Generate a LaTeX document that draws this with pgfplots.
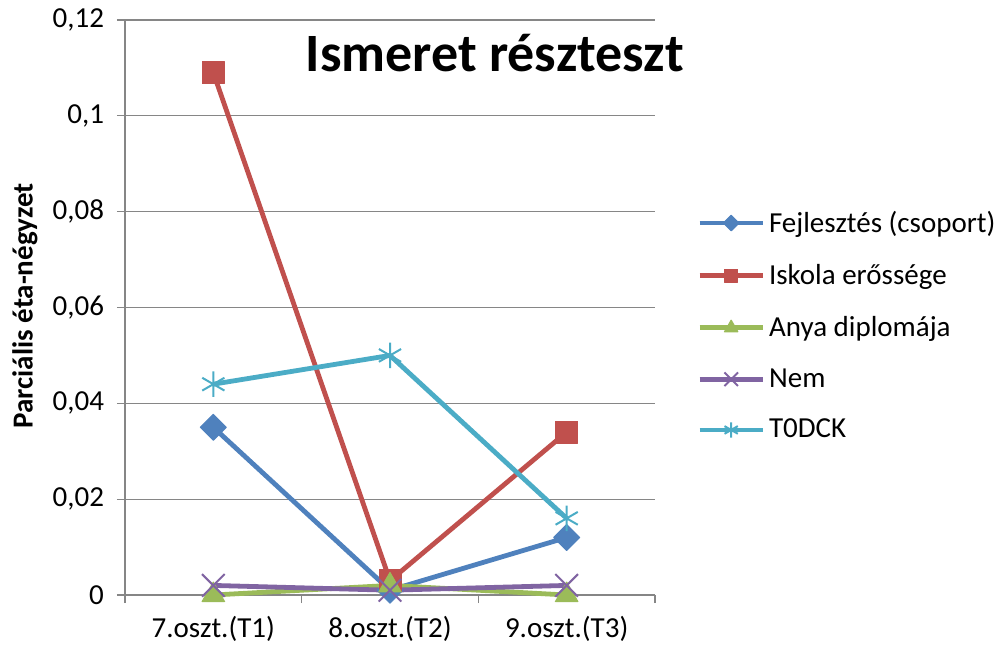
\documentclass[border=0pt]{standalone}
\usepackage{pgfplots}
\pgfplotsset{compat=1.18}
\usepackage{fontspec}
\setmainfont{Carlito}
\usetikzlibrary{plotmarks}

\definecolor{cBlue}{HTML}{4F81BD}
\definecolor{cRed}{HTML}{C0504D}
\definecolor{cGreen}{HTML}{9BBB59}
\definecolor{cPurple}{HTML}{8064A2}
\definecolor{cAqua}{HTML}{4BACC6}
\definecolor{gridgray}{HTML}{868686}

\begin{document}
\begin{tikzpicture}
\begin{axis}[
  scale only axis,
  width=265pt, height=287.5pt,
  xmin=-0.5, xmax=2.5,
  ymin=0, ymax=0.12,
  axis x line*=bottom, axis y line*=left,
  axis line style={draw=gridgray, line width=0.6pt},
  tick align=outside,
  tick style={draw=gridgray, line width=0.6pt},
  major tick length=4pt,
  xtick={-0.5,0.5,1.5,2.5},
  xticklabels={},
  extra x ticks={0,1,2},
  extra x tick labels={7.oszt.(T1),8.oszt.(T2),9.oszt.(T3)},
  extra x tick style={major tick length=0pt, grid=none,
    xticklabel style={yshift=-7pt}},
  ytick={0,0.02,0.04,0.06,0.08,0.1,0.12},
  yticklabels={0,{0,02},{0,04},{0,06},{0,08},{0,1},{0,12}},
  yticklabel style={xshift=-3pt},
  ymajorgrids=true,
  grid style={draw=gridgray, line width=0.6pt},
  tick label style={font=\fontsize{14.5}{17}\selectfont, text=black},
  ylabel={Parciális éta-négyzet},
  ylabel style={font=\bfseries\fontsize{14.5}{17}\selectfont, at={(axis description cs:-0.189,0.503)}, anchor=center},
  legend style={at={(axis description cs:1.079,0.468)}, anchor=west, draw=none, fill=none,
    font=\fontsize{14.5}{17}\selectfont, row sep=10.5pt, inner sep=0pt,
    nodes={inner xsep=2pt}},
  legend cell align=left,
  legend image code/.code={\draw[mark repeat=2,mark phase=2,every mark/.append style={scale=0.6}] plot coordinates {(0pt,0pt) (15.75pt,0pt) (31.5pt,0pt)};},
  every axis plot/.append style={line width=2.4pt, line join=round},
  clip=false,
]

\addplot[color=cBlue, mark=square*, mark size=4.6pt, mark options={rotate=45, line width=0.5pt}]
  coordinates {(0,0.035) (1,0.001) (2,0.012)};
\addlegendentry{Fejlesztés (csoport)}

\addplot[color=cRed, mark=square*, mark size=5.5pt, mark options={line width=0.5pt}]
  coordinates {(0,0.109) (1,0.003) (2,0.034)};
\addlegendentry{Iskola erőssége}

\addplot[color=cGreen, mark=triangle*, mark size=6.5pt, mark options={line width=0.5pt}]
  coordinates {(0,0) (1,0.002) (2,0)};
\addlegendentry{Anya diplomája}

\addplot[color=cPurple, mark=x, mark size=8pt, mark options={line width=1pt}]
  coordinates {(0,0.002) (1,0.001) (2,0.002)};
\addlegendentry{Nem}

\addplot[color=cAqua, mark=asterisk, mark size=6.4pt, mark options={line width=1pt}]
  coordinates {(0,0.044) (1,0.050) (2,0.016)};
\addlegendentry{T0DCK}

\node[font=\bfseries\fontsize{27}{32}\selectfont, anchor=base] at (axis description cs:0.698,0.911) {Ismeret részteszt};
\coordinate (O) at (axis description cs:0,0);
\end{axis}
\pgfresetboundingbox
\path[use as bounding box] (O) ++(-62.5pt,-27.5pt) rectangle ++(499.5pt,325pt);
\end{tikzpicture}
\end{document}
